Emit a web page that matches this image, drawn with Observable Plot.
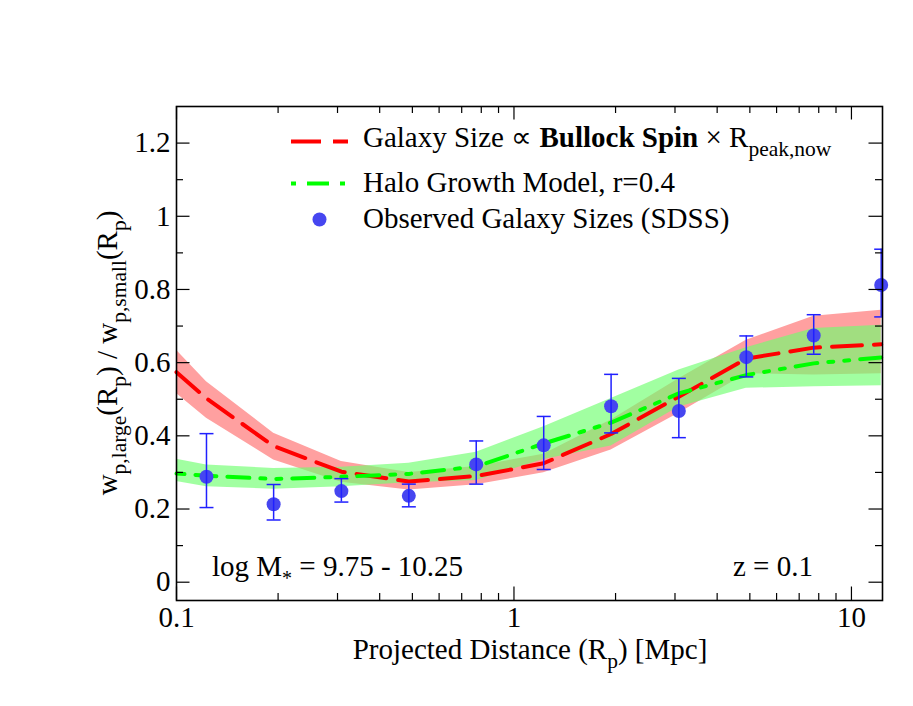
<!DOCTYPE html>
<html><head><meta charset="utf-8">
<script src="https://cdn.jsdelivr.net/npm/d3@7"></script>
<script src="https://cdn.jsdelivr.net/npm/@observablehq/plot@0.6"></script>
<style>body{margin:0;background:#fff}</style>
</head><body><div id="chart"></div>
<script>
// Observed galaxy sizes (SDSS)
const obsX  = [0.1227, 0.194, 0.308, 0.488, 0.773, 1.225, 1.94, 3.08, 4.88, 7.73, 12.25];
const obsY  = [0.288, 0.213, 0.249, 0.236, 0.322, 0.374, 0.481, 0.468, 0.615, 0.674, 0.812];
const obsHi = [0.406, 0.267, 0.283, 0.268, 0.386, 0.453, 0.568, 0.557, 0.673, 0.731, 0.910];
const obsLo = [0.204, 0.170, 0.219, 0.206, 0.268, 0.308, 0.408, 0.395, 0.561, 0.623, 0.725];

// Model curves
const modelX  = [0.1, 0.1227, 0.194, 0.308, 0.488, 0.773, 1.225, 1.94, 3.08, 4.88, 7.73, 12.25];
const spin    = [0.574, 0.502, 0.372, 0.302, 0.275, 0.290, 0.325, 0.405, 0.507, 0.611, 0.641, 0.650];
const spinLo  = [0.516, 0.448, 0.334, 0.273, 0.252, 0.266, 0.299, 0.361, 0.462, 0.570, 0.566, 0.570];
const spinHi  = [0.634, 0.548, 0.407, 0.330, 0.300, 0.316, 0.350, 0.443, 0.556, 0.661, 0.727, 0.743];
const growth  = [0.297, 0.291, 0.282, 0.288, 0.296, 0.316, 0.379, 0.436, 0.516, 0.566, 0.598, 0.614];
const growLo  = [0.275, 0.261, 0.254, 0.261, 0.272, 0.278, 0.335, 0.372, 0.479, 0.530, 0.534, 0.537];
const growHi  = [0.336, 0.320, 0.311, 0.314, 0.325, 0.355, 0.425, 0.502, 0.580, 0.641, 0.693, 0.702];

// Axes
const xDomain = [0.1, 12.36];
const yDomain = [-0.05, 1.3];
const majorX = [0.1, 1, 10];
const minorX = [0.2, 0.3, 0.4, 0.5, 0.6, 0.7, 0.8, 0.9, 2, 3, 4, 5, 6, 7, 8, 9];
const majorY = [0, 0.2, 0.4, 0.6, 0.8, 1, 1.2];
const minorY = [0.1, 0.3, 0.5, 0.7, 0.9, 1.1];

const W = 913, H = 706, mL = 176, mR = 31, mT = 106, mB = 106;
const fw = W - mL - mR, fh = H - mT - mB;
const FONT = "'Liberation Serif', 'Times New Roman', serif";
const FS = 29;

const model = modelX.map((x, i) => ({x, spin: spin[i], spinLo: spinLo[i], spinHi: spinHi[i],
  growth: growth[i], growLo: growLo[i], growHi: growHi[i]}));
const obs = obsX.map((x, i) => ({x, y: obsY[i], lo: obsLo[i], hi: obsHi[i]}));

const cap = {draw(ctx, size) { const w = Math.sqrt(size / Math.PI); ctx.moveTo(-w, 0); ctx.lineTo(w, 0); }};
const BIG = 13.5, SMALL = 7;

const svg = Plot.plot({
  width: W, height: H, marginLeft: mL, marginRight: mR, marginTop: mT, marginBottom: mB,
  style: {fontFamily: FONT, fontSize: FS + "px", background: "#fff", color: "#000"},
  x: {type: "log", domain: xDomain},
  y: {domain: yDomain},
  marks: [
    Plot.areaY(model, {x: "x", y1: "spinLo", y2: "spinHi", fill: "#ffa0a0"}),
    Plot.areaY(model, {x: "x", y1: "growLo", y2: "growHi", fill: "rgb(110,255,110)", fillOpacity: 0.65}),
    Plot.line(model, {x: "x", y: "spin", stroke: "#ff0000", strokeWidth: 4, strokeDasharray: "30,12"}),
    Plot.line(model, {x: "x", y: "growth", stroke: "#00ff00", strokeWidth: 4, strokeDasharray: "22,11,5,11,5,11", strokeDashoffset: 14}),
    Plot.dot(obs, {x: "x", y: "y", r: 7, fill: "rgb(70,70,240)"}),
    Plot.ruleX(obs, {x: "x", y1: "lo", y2: "hi", stroke: "#2020ff", strokeWidth: 1.5}),
    Plot.dot(obs, {x: "x", y: "hi", r: 7, symbol: cap, stroke: "#2020ff", strokeWidth: 1.5, fill: "none", clip: "frame"}),
    Plot.dot(obs, {x: "x", y: "lo", r: 7, symbol: cap, stroke: "#2020ff", strokeWidth: 1.5, fill: "none", clip: "frame"}),
    // ticks (inward, all four sides)
    Plot.tickX(majorX, {x: d => d, insetTop: fh - BIG, stroke: "#000", strokeWidth: 1.2}),
    Plot.tickX(majorX, {x: d => d, insetBottom: fh - BIG, stroke: "#000", strokeWidth: 1.2}),
    Plot.tickX(minorX, {x: d => d, insetTop: fh - SMALL, stroke: "#000", strokeWidth: 1.2}),
    Plot.tickX(minorX, {x: d => d, insetBottom: fh - SMALL, stroke: "#000", strokeWidth: 1.2}),
    Plot.tickY(majorY, {y: d => d, insetRight: fw - BIG, stroke: "#000", strokeWidth: 1.2}),
    Plot.tickY(majorY, {y: d => d, insetLeft: fw - BIG, stroke: "#000", strokeWidth: 1.2}),
    Plot.tickY(minorY, {y: d => d, insetRight: fw - SMALL, stroke: "#000", strokeWidth: 1.2}),
    Plot.tickY(minorY, {y: d => d, insetLeft: fw - SMALL, stroke: "#000", strokeWidth: 1.2}),
    Plot.frame({stroke: "#000", strokeWidth: 1.6}),
    Plot.axisX(majorX, {tickSize: 0, tickPadding: 6, tickFormat: d => String(d), label: null, fontSize: FS}),
    Plot.axisY(majorY, {tickSize: 0, tickPadding: 6, tickFormat: d => String(d), label: null, fontSize: FS})
  ]
});

const root = d3.select(svg);
function rich(g, x, y, parts, opts = {}) {
  const t = g.append("text").attr("x", x).attr("y", y)
    .attr("font-family", FONT).attr("font-size", FS).attr("fill", "#000")
    .attr("text-anchor", opts.anchor || "start");
  if (opts.rotate) t.attr("transform", `rotate(-90 ${x} ${y})`);
  let shift = 0;
  for (const p of parts) {
    const s = t.append("tspan").text(p.t);
    const want = p.sub ? (p.shift || 9) : 0;
    if (want !== shift) { s.attr("dy", want - shift); shift = want; }
    if (p.sub) s.attr("font-size", p.size || 21.5);
    if (p.bold) s.attr("font-weight", "bold");
  }
  return t;
}
const g = root.append("g");
// axis titles
rich(g, 530, 659, [{t: "Projected Distance (R"}, {t: "p", sub: true}, {t: ") [Mpc]"}], {anchor: "middle"});
rich(g, 117, 353, [{t: "w"}, {t: "p,large", sub: true}, {t: "(R"}, {t: "p", sub: true}, {t: ") / w"},
  {t: "p,small", sub: true}, {t: "(R"}, {t: "p", sub: true}, {t: ")"}], {anchor: "middle", rotate: true});
// annotations
rich(g, 212, 576, [{t: "log M"}, {t: "*", sub: true, shift: 9, size: 20}, {t: " = 9.75 - 10.25"}]);
rich(g, 733, 576, [{t: "z = 0.1"}]);
// legend
g.append("line").attr("x1", 291).attr("x2", 348).attr("y1", 141.5).attr("y2", 141.5)
  .attr("stroke", "#ff0000").attr("stroke-width", 4).attr("stroke-dasharray", "30,12");
g.append("line").attr("x1", 291).attr("x2", 348).attr("y1", 183.5).attr("y2", 183.5)
  .attr("stroke", "#00ff00").attr("stroke-width", 4).attr("stroke-dasharray", "5,11,22,11,5,11");
g.append("circle").attr("cx", 319.5).attr("cy", 219.5).attr("r", 7).attr("fill", "rgb(70,70,240)");
rich(g, 363, 147, [{t: "Galaxy Size \u221D "}, {t: "Bullock Spin", bold: true}, {t: " \u00D7 R"}, {t: "peak,now", sub: true}]);
rich(g, 363, 192, [{t: "Halo Growth Model, r=0.4"}]);
rich(g, 363, 227.5, [{t: "Observed Galaxy Sizes (SDSS)"}]);

document.getElementById("chart").appendChild(svg);
</script>
</body></html>
